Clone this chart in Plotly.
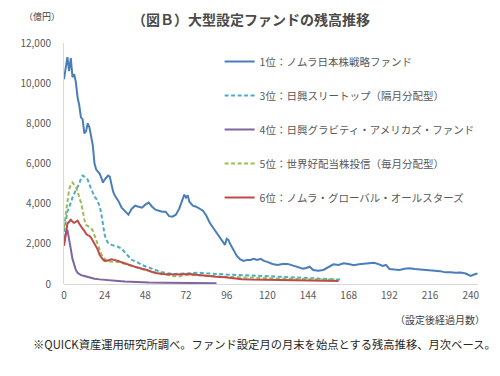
import plotly.graph_objects as go

# ---------------- data ----------------
blue_name = "1位：ノムラ日本株戦略ファンド"
blue_m = [0,1,2,3,4,5,6,7,8,9,10,11,12,13,14,15,16,17,18,19,20,21,22,23,24,25,26,27,28,29,30,32,34,36,38,40,42,44,46,48,50,52,54,56,58,60,62,64,66,68,70,71,72,73,74,76,78,80,82,84,86,88,90,92,94,95,96,97,98,100,102,104,106,108,110,112,114,116,118,120,123,126,129,132,135,138,141,143,145,147,150,153,156,159,162,165,168,171,174,177,180,183,186,188,190,192,195,198,201,204,207,210,213,216,219,222,225,228,231,234,237,239,240,242,244]
blue_v = [10200,10900,11300,10600,11250,10300,10450,10050,9300,8900,8300,8200,7500,7600,8000,7800,7400,6900,6000,5700,5600,5500,5300,5050,5200,5300,5400,5350,4900,4600,4400,4150,3800,3600,3450,3750,3900,3850,3800,3950,4050,3850,3700,3650,3600,3600,3380,3350,3450,3750,4200,4450,4300,4420,4100,3900,3850,3750,3650,3400,3050,2800,2550,2350,2100,1950,2250,2200,2000,1700,1400,1220,1150,1200,1200,1250,1200,1250,1150,1100,1000,950,1000,1000,920,870,760,800,860,700,660,700,850,980,950,1030,1000,930,980,1000,1030,1060,980,900,950,750,720,700,760,780,750,730,720,700,690,640,580,590,560,570,520,430,400,470,520]

teal_name = "3位：日興スリートップ（隔月分配型）"
teal_m = [0,1,2,3,4,5,6,7,8,9,10,11,12,13,14,15,16,17,18,19,20,21,22,23,24,25,26,28,30,32,34,36,38,40,43,46,49,52,55,58,61,64,68,72,76,80,84,88,92,96,100,105,110,115,120,125,130,135,140,145,150,155,160,163]
teal_v = [2600,3200,3600,3800,4100,4300,4500,4650,4800,5000,5250,5400,5350,5250,5200,4950,4750,4500,4350,4250,4100,3900,3500,2900,2450,2200,2050,1950,1900,1850,1750,1550,1350,1200,1100,950,850,750,650,580,540,500,510,530,550,560,530,500,480,470,460,450,430,410,390,370,350,330,310,290,270,250,230,220]

purple_name = "4位：日興グラビティ・アメリカズ・ファンド"
purple_m = [0,1,2,3,4,5,6,7,8,9,10,12,14,16,18,21,24,28,32,36,40,45,50,60,70,80,90]
purple_v = [2100,2500,2700,2300,1750,1250,900,700,560,480,440,400,350,300,260,230,200,180,150,120,100,80,70,60,55,50,40]

green_name = "5位：世界好配当株投信（毎月分配型）"
green_m = [0,1,2,3,4,5,6,7,8,9,10,11,12,13,14,15,16,17,18,19,20,21,22,23,24,26,28,30,32,34,36,38,40,43,46,49,52,55,58,61,64,66,68,70,72,76,80,85,90,95,100,110,120,130,140,150,160]
green_v = [2800,3500,4200,4700,4950,5050,4950,4850,4600,4350,4050,3700,3200,2950,2900,2850,2780,2650,2450,2200,1950,1700,1500,1350,1250,1120,1100,1100,1100,1050,980,940,880,800,720,650,600,560,500,450,400,380,370,430,460,450,420,400,380,360,340,310,290,270,250,230,210]

red_name = "6位：ノムラ・グローバル・オールスターズ"
red_m = [0,1,2,3,4,5,6,7,8,9,10,11,12,13,14,15,16,17,18,19,20,21,22,23,24,26,28,30,32,34,36,38,40,43,46,49,52,55,58,62,66,70,74,78,82,86,90,95,100,105,110,120,130,140,150,162]
red_v = [1900,2600,3000,3100,3200,3100,3050,3100,3150,3000,2850,2750,2650,2500,2430,2400,2300,2150,2050,1900,1700,1450,1300,1220,1150,1170,1230,1200,1150,1080,1020,960,900,830,760,700,600,530,500,480,470,490,500,460,420,390,360,330,280,240,220,200,190,180,170,150]

x_ticks = [0,24,48,72,96,120,144,168,192,216,240]
y_ticks = [0,2000,4000,6000,8000,10000,12000]
y_ticktext = ["0","2,000","4,000","6,000","8,000","10,000","12,000"]

title_text = "（図Ｂ）大型設定ファンドの残高推移"
unit_text = "（億円）"
xlabel_text = "（設定後経過月数）"
note_text = "※QUICK資産運用研究所調べ。ファンド設定月の月末を始点とする残高推移、月次ベース。"

FONT = "Noto Sans CJK JP"

series = [
    (blue_name, blue_m, blue_v, "#4A7EBB", "solid"),
    (teal_name, teal_m, teal_v, "#4BACC6", "4px,2.5px"),
    (purple_name, purple_m, purple_v, "#8064A2", "solid"),
    (green_name, green_m, green_v, "#9BBB59", "4px,2.5px"),
    (red_name, red_m, red_v, "#BE4B48", "solid"),
]

# the page body adds an 8px margin; work in window pixels and shift
OFF = 8
W, H = 500 - OFF, 376 - OFF
L, R, T, B = 55 - OFF, 478 - OFF, 43 - OFF, 284 - OFF
def px(x):
    return (x - OFF - L) / (R - L)
def py(y):
    return (B - (y - OFF)) / (B - T)

fig = go.Figure()
for i, (name, m, v, col, dash) in enumerate(series):
    fig.add_trace(go.Scatter(
        x=m, y=v, mode="lines", name=name, legendgroup=f"g{i}",
        line=dict(color=col, width=2, dash=dash),
    ))

fig.update_layout(
    width=W, height=H,
    margin=dict(l=L, r=W - R, t=T, b=H - B),
    paper_bgcolor="white", plot_bgcolor="white",
    font=dict(family=FONT, color="#595959", size=10),
    showlegend=True,
    legend=dict(
        x=px(214), y=py(47), xanchor="left", yanchor="top",
        bgcolor="rgba(0,0,0,0)", tracegroupgap=15,
        font=dict(size=10.5, color="#595959", family=FONT),
        itemwidth=30,
    ),
    xaxis=dict(
        range=[0, 244.3], tickmode="array", tickvals=x_ticks,
        showgrid=False, zeroline=False, showline=False,
        ticks="", ticklabelstandoff=4, tickfont=dict(size=10, color="#595959"),
    ),
    yaxis=dict(
        range=[0, 12000], tickmode="array", tickvals=y_ticks, ticktext=y_ticktext,
        showgrid=False, zeroline=True, zerolinecolor="#D9D9D9", zerolinewidth=1,
        showline=True, linecolor="#D9D9D9", linewidth=1,
        ticks="", ticklabelstandoff=10, tickfont=dict(size=10, color="#595959"),
    ),
    annotations=[
        dict(text="<b>" + title_text + "</b>", xref="paper", yref="paper",
             x=px(246), y=py(19), xanchor="center", yanchor="middle", showarrow=False,
             font=dict(size=14, color="#4a4a4a", family=FONT)),
        dict(text=unit_text, xref="paper", yref="paper",
             x=px(12), y=py(17), xanchor="left", yanchor="middle", showarrow=False,
             font=dict(size=9, color="#404040", family=FONT)),
        dict(text=xlabel_text, xref="paper", yref="paper",
             x=px(487), y=py(319), xanchor="right", yanchor="middle", showarrow=False,
             font=dict(size=10, color="#404040", family=FONT)),
        dict(text=note_text, xref="paper", yref="paper",
             x=px(260), y=py(344), xanchor="center", yanchor="middle", showarrow=False,
             font=dict(size=11.3, color="#262626", family=FONT)),
    ],
)

fig.write_html("out.html")
